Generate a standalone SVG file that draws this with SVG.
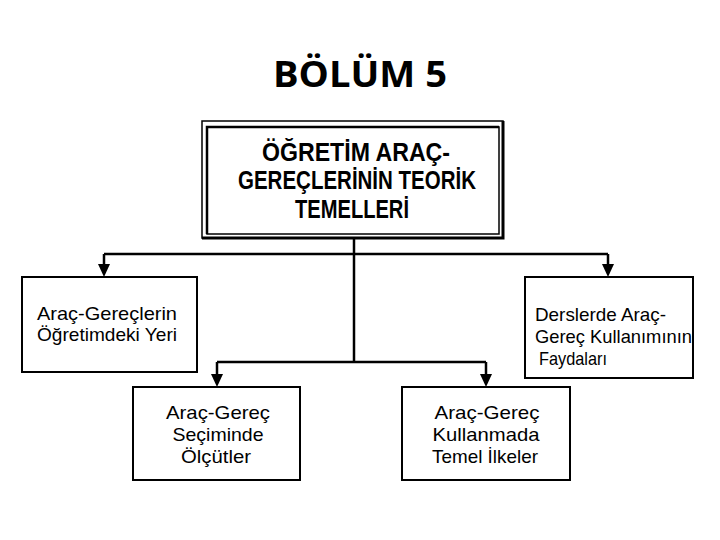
<svg xmlns="http://www.w3.org/2000/svg" width="720" height="540" viewBox="0 0 720 540">
<style>
.box{fill:#fff;stroke:#000;stroke-width:2}
.t{font-family:"Liberation Sans",Arial,sans-serif;font-size:18.5px;fill:#000}
.b{font-family:"Liberation Sans",Arial,sans-serif;font-size:26px;font-weight:bold;fill:#000}
.c{stroke:#000;stroke-width:2.5;fill:none}
.ah{fill:#000}
</style>
<rect width="720" height="540" fill="#fff"/>
<text x="360" y="87" text-anchor="middle" font-family="'Open Sans','Liberation Sans',sans-serif" font-weight="bold" font-size="35" textLength="174" lengthAdjust="spacingAndGlyphs">BÖLÜM 5</text>

<g id="connectors">
<path class="c" d="M354,238 V362"/>
<path class="c" d="M104,254 H608"/>
<path class="c" d="M104,254 V265"/>
<path class="c" d="M608,254 V265"/>
<path class="ah" d="M98,264 H110 L104,277 Z"/>
<path class="ah" d="M602,264 H614 L608,277 Z"/>
<path class="c" d="M217,362 H486"/>
<path class="c" d="M217,362 V375"/>
<path class="c" d="M486,362 V375"/>
<path class="ah" d="M211,374 H223 L217,387 Z"/>
<path class="ah" d="M480,374 H492 L486,387 Z"/>
</g>

<g id="main">
<rect x="202" y="121" width="301" height="117" fill="#fff" stroke="#000" stroke-width="1.5"/>
<path d="M202,238 H503 V121" fill="none" stroke="#000" stroke-width="3"/>
<rect x="207" y="127" width="292" height="107" fill="none" stroke="#000" stroke-width="1.5"/>
<path d="M207,234 V127 H499" fill="none" stroke="#000" stroke-width="2.5"/>
<text class="b" x="356" y="161" text-anchor="middle" textLength="188" lengthAdjust="spacingAndGlyphs">ÖĞRETİM ARAÇ-</text>
<text class="b" x="357" y="189" text-anchor="middle" textLength="238" lengthAdjust="spacingAndGlyphs">GEREÇLERİNİN TEORİK</text>
<text class="b" x="352" y="218" text-anchor="middle" textLength="114" lengthAdjust="spacingAndGlyphs">TEMELLERİ</text>
</g>

<g id="n1">
<rect class="box" x="22" y="277" width="175" height="95"/>
<text class="t" x="37" y="320" textLength="140" lengthAdjust="spacingAndGlyphs">Araç-Gereçlerin</text>
<text class="t" x="37" y="341" textLength="140" lengthAdjust="spacingAndGlyphs">Öğretimdeki Yeri</text>
</g>

<g id="n2">
<rect class="box" x="525" y="277" width="168" height="101"/>
<text class="t" x="535" y="321" textLength="131" lengthAdjust="spacingAndGlyphs">Derslerde Araç-</text>
<text class="t" x="535" y="343" textLength="157" lengthAdjust="spacingAndGlyphs">Gereç Kullanımının</text>
<text class="t" x="539" y="365" textLength="68" lengthAdjust="spacingAndGlyphs">Faydaları</text>
</g>

<g id="n3">
<rect class="box" x="133" y="387" width="167" height="93"/>
<text class="t" x="218" y="419" text-anchor="middle" textLength="104" lengthAdjust="spacingAndGlyphs">Araç-Gereç</text>
<text class="t" x="218" y="441" text-anchor="middle" textLength="91" lengthAdjust="spacingAndGlyphs">Seçiminde</text>
<text class="t" x="216" y="463" text-anchor="middle" textLength="70" lengthAdjust="spacingAndGlyphs">Ölçütler</text>
</g>

<g id="n4">
<rect class="box" x="402" y="387" width="168" height="93"/>
<text class="t" x="487" y="419" text-anchor="middle" textLength="105" lengthAdjust="spacingAndGlyphs">Araç-Gereç</text>
<text class="t" x="486" y="441" text-anchor="middle" textLength="107" lengthAdjust="spacingAndGlyphs">Kullanmada</text>
<text class="t" x="485" y="463" text-anchor="middle" textLength="106" lengthAdjust="spacingAndGlyphs">Temel İlkeler</text>
</g>
</svg>
